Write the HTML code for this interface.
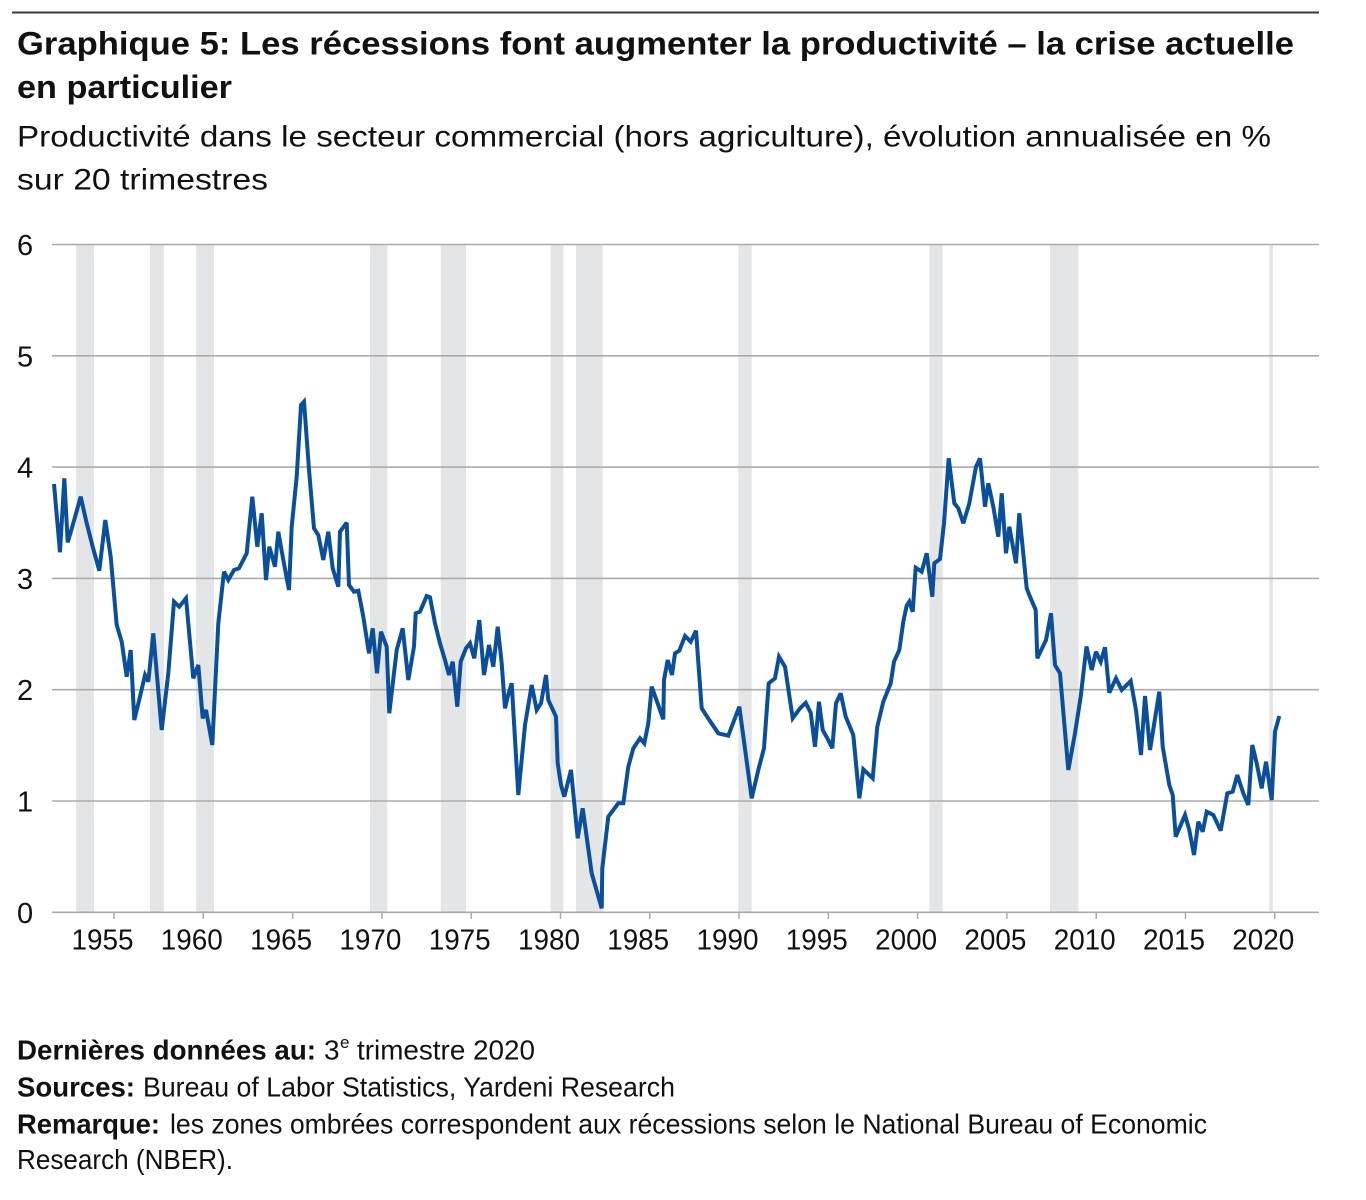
<!DOCTYPE html>
<html>
<head>
<meta charset="utf-8">
<style>
  html, body { margin: 0; padding: 0; background: #ffffff; }
  svg { display: block; }
  .t { font-family: "Liberation Sans", Arial, sans-serif; fill: #111; }
</style>
</head>
<body>
<svg width="1366" height="1200" viewBox="0 0 1366 1200" xmlns="http://www.w3.org/2000/svg">
  <rect x="0" y="0" width="1366" height="1200" fill="#ffffff"/>
  <!-- top rule -->
  <rect x="12" y="11.5" width="1307" height="2" fill="#3a3a3a"/>

  <!-- title -->
  <text class="t" x="17" y="54.5" font-size="32" font-weight="bold" textLength="1277" lengthAdjust="spacingAndGlyphs">Graphique 5: Les récessions font augmenter la productivité – la crise actuelle</text>
  <text class="t" x="17" y="98" font-size="32" font-weight="bold" textLength="215" lengthAdjust="spacingAndGlyphs">en particulier</text>
  <text class="t" x="17" y="146.5" font-size="30" fill="#1a1a1a" textLength="1254" lengthAdjust="spacingAndGlyphs">Productivité dans le secteur commercial (hors agriculture), évolution annualisée en %</text>
  <text class="t" x="17" y="189.5" font-size="30" fill="#1a1a1a" textLength="251" lengthAdjust="spacingAndGlyphs">sur 20 trimestres</text>

  <!-- recession bars -->
  <g fill="#e4e5e7">
    <rect x="76" y="244.5" width="18" height="668"/>
    <rect x="150" y="244.5" width="14" height="668"/>
    <rect x="196" y="244.5" width="18" height="668"/>
    <rect x="370" y="244.5" width="17.3" height="668"/>
    <rect x="440.7" y="244.5" width="25.3" height="668"/>
    <rect x="550.7" y="244.5" width="12.6" height="668"/>
    <rect x="576" y="244.5" width="26.7" height="668"/>
    <rect x="738.3" y="244.5" width="13.4" height="668"/>
    <rect x="929.3" y="244.5" width="13.4" height="668"/>
    <rect x="1050" y="244.5" width="28.3" height="668"/>
    <rect x="1269.3" y="244.5" width="3.6" height="668"/>
  </g>

  <!-- gridlines -->
  <g stroke="#ababab" stroke-width="1.6">
    <line x1="52" y1="244.5" x2="1319" y2="244.5"/>
    <line x1="52" y1="355.8" x2="1319" y2="355.8"/>
    <line x1="52" y1="467.1" x2="1319" y2="467.1"/>
    <line x1="52" y1="578.4" x2="1319" y2="578.4"/>
    <line x1="52" y1="689.7" x2="1319" y2="689.7"/>
    <line x1="52" y1="801" x2="1319" y2="801"/>
    <line x1="52" y1="912.3" x2="1319" y2="912.3"/>
  </g>
  <!-- ticks -->
  <g stroke="#ababab" stroke-width="1.5">
    <line x1="114" y1="912" x2="114" y2="919"/>
    <line x1="203.3" y1="912" x2="203.3" y2="919"/>
    <line x1="292.6" y1="912" x2="292.6" y2="919"/>
    <line x1="381.9" y1="912" x2="381.9" y2="919"/>
    <line x1="471.2" y1="912" x2="471.2" y2="919"/>
    <line x1="560.5" y1="912" x2="560.5" y2="919"/>
    <line x1="649.7" y1="912" x2="649.7" y2="919"/>
    <line x1="739" y1="912" x2="739" y2="919"/>
    <line x1="828.3" y1="912" x2="828.3" y2="919"/>
    <line x1="917.6" y1="912" x2="917.6" y2="919"/>
    <line x1="1006.9" y1="912" x2="1006.9" y2="919"/>
    <line x1="1096.2" y1="912" x2="1096.2" y2="919"/>
    <line x1="1185.5" y1="912" x2="1185.5" y2="919"/>
    <line x1="1274.8" y1="912" x2="1274.8" y2="919"/>
  </g>

  <!-- y labels -->
  <g class="t" font-size="29" fill="#1a1a1a">
    <text x="17" y="255">6</text>
    <text x="17" y="366.3">5</text>
    <text x="17" y="477.6">4</text>
    <text x="17" y="588.9">3</text>
    <text x="17" y="700.2">2</text>
    <text x="17" y="811.5">1</text>
    <text x="17" y="922.8">0</text>
  </g>
  <!-- x labels -->
  <g class="t" font-size="29" fill="#1a1a1a" text-anchor="middle">
    <text x="102.5" y="949.5" textLength="62" lengthAdjust="spacingAndGlyphs">1955</text>
    <text x="191.8" y="949.5" textLength="62" lengthAdjust="spacingAndGlyphs">1960</text>
    <text x="281.1" y="949.5" textLength="62" lengthAdjust="spacingAndGlyphs">1965</text>
    <text x="370.4" y="949.5" textLength="62" lengthAdjust="spacingAndGlyphs">1970</text>
    <text x="459.7" y="949.5" textLength="62" lengthAdjust="spacingAndGlyphs">1975</text>
    <text x="549" y="949.5" textLength="62" lengthAdjust="spacingAndGlyphs">1980</text>
    <text x="638.2" y="949.5" textLength="62" lengthAdjust="spacingAndGlyphs">1985</text>
    <text x="727.5" y="949.5" textLength="62" lengthAdjust="spacingAndGlyphs">1990</text>
    <text x="816.8" y="949.5" textLength="62" lengthAdjust="spacingAndGlyphs">1995</text>
    <text x="906.1" y="949.5" textLength="62" lengthAdjust="spacingAndGlyphs">2000</text>
    <text x="995.4" y="949.5" textLength="62" lengthAdjust="spacingAndGlyphs">2005</text>
    <text x="1084.7" y="949.5" textLength="62" lengthAdjust="spacingAndGlyphs">2010</text>
    <text x="1174" y="949.5" textLength="62" lengthAdjust="spacingAndGlyphs">2015</text>
    <text x="1263.3" y="949.5" textLength="62" lengthAdjust="spacingAndGlyphs">2020</text>
  </g>

  <!-- series -->
  <polyline fill="none" stroke="#0b4f9b" stroke-width="4" stroke-linejoin="miter" stroke-miterlimit="3" points="
54,484 60,552.3 64.3,478.3 67.7,542.3 72.3,526.7 80.7,496.7 86.7,523.3 92.7,546.7 99.3,570.7 105.3,520 110.7,556.7 116.7,625 121.7,641.7 126.7,676.7 130.7,650 134.3,720 140,696.7 145,675 148.3,681.7 153.3,633.3 161.7,730 168.3,673.3 174,601.7 179.3,606.7 186,598.3 193.3,678.3 198.3,665 202.7,718.3 206,710 212.3,745 218.3,623.3 224,571.7 228.3,580 234,570 239,568.3 246.7,553.3 252.3,496.7 257.3,546.7 261.7,513.3 266,580 269.3,546.7 275,566.7 278.3,531.7 283.3,560 289,590 291.7,526.7 296.7,476.7 301,405 304,401.7 309.3,473.3 314,528.3 318.3,535 323.3,560 328.3,531.7 332.7,568.3 338.3,586.7 340,531.7 346.7,522.7 349,585 354,591.7 358.3,590.7 363.3,616.7 369,653.3 372.7,628.3 377,673.3 381,631.7 386.7,646.7 389.3,713.3 396.7,650 402.7,628.3 408.3,680 414,646.7 415.7,613.3 420,611.7 426.7,596 430,597.3 435,623.3 440,643.3 445,660 449,675 452.7,661.7 457.3,706.7 460.7,661.7 466,648.3 470,643.3 474.3,658.3 479.3,620 484,675 489,645 493.3,666.7 497.7,626.7 501.7,663.3 505,708.3 507.7,696.7 511.7,683.3 518.3,795 525,725 531.7,685 536.7,710 541,703.3 546,675 548.3,700 556,716.7 557.7,763.3 561,785 564.3,796.7 571,770 577.7,838.3 582.7,808.3 591.7,873.3 601.7,908.3 602.3,868.3 608.3,816.7 618.3,803.3 623.3,803.3 628.3,766.7 633.3,748.3 640,738.3 644.3,743.3 648.3,723.3 651.7,686.7 663.3,719.3 664,680 667.7,660 672,675 675,653.3 679.3,650.7 685,636 690.7,641.7 696,630.7 701.7,708.3 709.3,720 718.3,733.3 728.3,735.7 739.3,706.7 751.7,798.3 758.3,770 764,748.3 768.7,683.3 775,678.3 779,656.7 785,666.7 792.7,718.3 800,708.3 805.7,702.7 810.7,712.7 815,746.7 819,701.7 822.7,730 828.3,740 832.3,748.3 836,703.3 840.7,693.3 845.7,716.7 853.3,735 859.3,798.3 863.3,769.3 872.7,778.3 877.3,726.7 883.3,701.7 890.7,683.3 894,661.7 899.3,650 903.3,621.7 906.7,605.7 909.3,601.7 912.7,611.7 915.7,567.7 921.7,571.7 926.7,553.3 932.3,596.7 934.3,563.3 940,559 944,523.3 948.7,458.3 954.3,503.3 958.3,508.3 963.3,523.3 969.3,503.3 976,466.7 980,458.3 985,506.7 988.3,483.3 993.3,506.7 998.3,536.7 1001.7,493.3 1006,553.3 1009.3,526.7 1016,563.3 1019.3,513.3 1026.7,588.3 1030,596.7 1035.7,610 1037.3,658.3 1046,640 1051,613.3 1055,665 1060,673.3 1068.3,770 1075,733.3 1080.7,696.7 1086.5,646.5 1091.7,670 1096,651.7 1100.7,661.7 1105,647.3 1109.3,692.7 1116,678.3 1121.7,690 1130.7,681 1136,710 1141,755 1145,696 1150,750 1159.3,691.7 1162.7,746.7 1169.3,785 1172.7,795 1175.7,836.7 1179.3,828.3 1185,815 1189.3,830 1194,855 1198.3,821.7 1202.7,831.7 1206.7,811.7 1213.3,815 1220.7,830.7 1227.3,793.3 1232.7,791.7 1237.3,775 1243.3,793.3 1248.3,805 1252.3,745 1256.7,763.3 1261.7,788.3 1266,761.7 1271.7,800 1275,731.7 1279.3,716"/>

  <!-- footer -->
  <g class="t" font-size="28" fill="#111">
    <text x="17" y="1059.5" font-weight="bold" textLength="299" lengthAdjust="spacingAndGlyphs">Dernières données au:</text>
    <text x="324" y="1059.5">3</text>
    <text x="340" y="1048" font-size="17">e</text>
    <text x="357" y="1059.5" textLength="178" lengthAdjust="spacingAndGlyphs">trimestre 2020</text>

    <text x="17" y="1096.5" font-weight="bold" textLength="118" lengthAdjust="spacingAndGlyphs">Sources:</text>
    <text x="143" y="1096.5" textLength="532" lengthAdjust="spacingAndGlyphs">Bureau of Labor Statistics, Yardeni Research</text>

    <text x="17" y="1133.5" font-weight="bold" textLength="143" lengthAdjust="spacingAndGlyphs">Remarque:</text>
    <text x="170" y="1133.5" textLength="1037" lengthAdjust="spacingAndGlyphs">les zones ombrées correspondent aux récessions selon le National Bureau of Economic</text>

    <text x="17" y="1169" textLength="216" lengthAdjust="spacingAndGlyphs">Research (NBER).</text>
  </g>
</svg>
</body>
</html>
